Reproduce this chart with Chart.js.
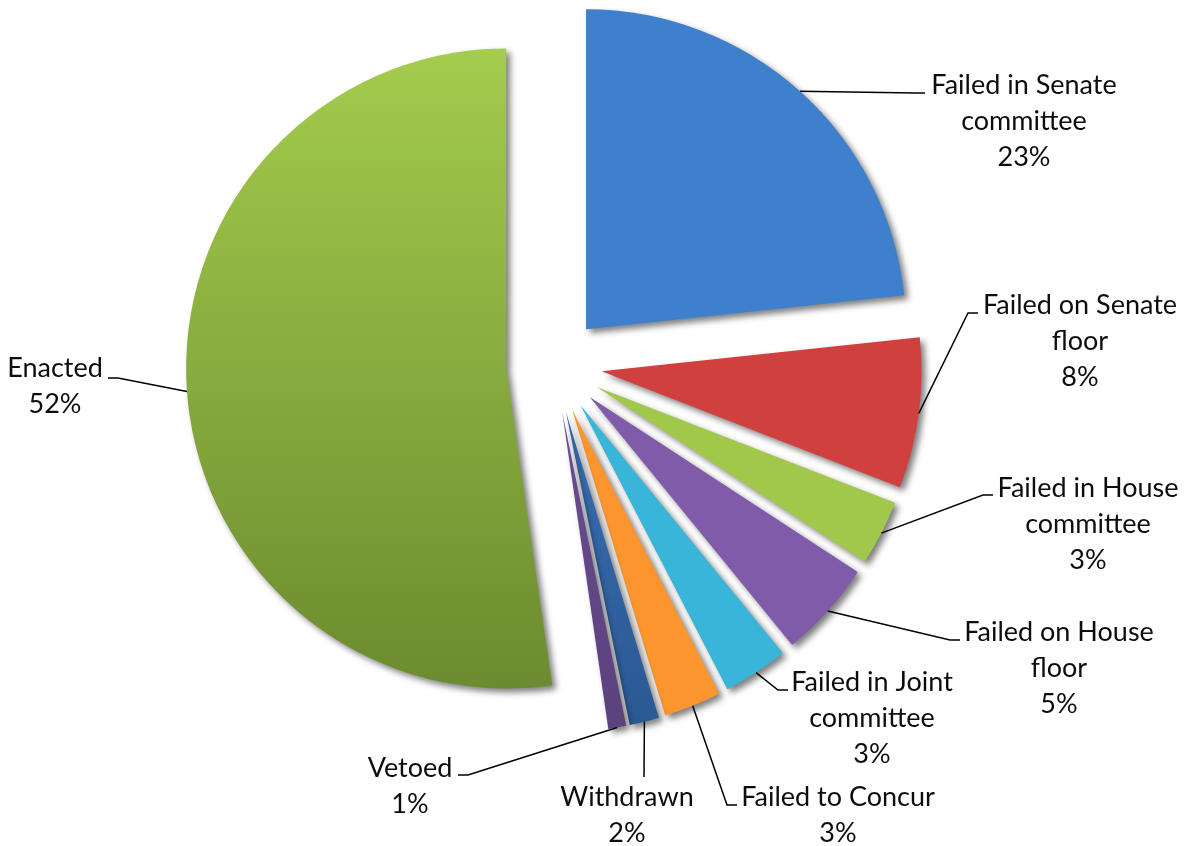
<!DOCTYPE html>
<html>
<head>
<meta charset="utf-8">
<script src="https://cdn.jsdelivr.net/npm/chart.js@4"></script>
<style>
  html, body { margin: 0; padding: 0; background: #ffffff; }
</style>
</head>
<body>
<canvas id="billChart" width="1195" height="846"></canvas>
<script>
// what happened to the bills, clockwise from 12 o'clock
const categories = [
  'Failed in Senate\ncommittee',
  'Failed on Senate\nfloor',
  'Failed in House\ncommittee',
  'Failed on House\nfloor',
  'Failed in Joint\ncommittee',
  'Failed to Concur',
  'Withdrawn',
  'Vetoed',
  'Enacted'
];
const shares = [23.3, 7.6, 3.3, 4.9, 3.3, 2.9, 1.5, 0.9, 52.3];

// styling
const sliceColors = ['#3e80cc', '#d0403e', '#a1c84b', '#7f5ba9', '#38b5d8', '#fc952e', null, null, null];
const sliceGradients = [null, null, null, null, null, null,
  ['#4584d2', '#2a5892'], ['#7859a8', '#5b417d'], ['#a4cc4d', '#6c8b2f']];

// where each label sits: [center x, first line y], and where its leader line ends
const labelAt = [[1024, 85], [1080, 305], [1088, 488], [1059, 632], [872, 682], [838, 797], [627, 797], [410, 768], [55, 368]];
const leaderEnd = [[925, 93], [978, 313], [993, 495], [960, 640], [788, 690], [737, 805], [644, 777], [458, 775], [108, 378]];

const RADIUS = 320;
const EXPLODE = 48;
const LINE_H = 36;

function sliceFill(c) {
  const i = c.dataIndex;
  const g = sliceGradients[i];
  if (!g) return sliceColors[i];
  const area = c.chart.chartArea;
  if (!area) return g[0];
  const cy = (area.top + area.bottom) / 2;
  const grad = c.chart.ctx.createLinearGradient(0, cy - RADIUS, 0, cy + RADIUS);
  grad.addColorStop(0, g[0]);
  grad.addColorStop(1, g[1]);
  return grad;
}

function sliceGeom(arc) {
  const mid = (arc.startAngle + arc.endAngle) / 2;
  const cx = arc.x + Math.cos(mid) * EXPLODE;
  const cy = arc.y + Math.sin(mid) * EXPLODE;
  return {
    dx: cx - arc.x,
    dy: cy - arc.y,
    px: cx + Math.cos(mid) * arc.outerRadius,
    py: cy + Math.sin(mid) * arc.outerRadius
  };
}

// every slice pulled out along its bisector, with a soft drop shadow
const explodedPie = {
  id: 'explodedPie',
  beforeDatasetDraw(chart, args) {
    const ctx = chart.ctx;
    ctx.save();
    ctx.shadowColor = 'rgba(0, 0, 0, 0.5)';
    ctx.shadowBlur = 6;
    ctx.shadowOffsetX = 4;
    ctx.shadowOffsetY = 4;
    args.meta.data.forEach(arc => {
      const g = sliceGeom(arc);
      ctx.save();
      ctx.translate(g.dx, g.dy);
      arc.draw(ctx);
      ctx.restore();
    });
    ctx.restore();
    return false;
  }
};

const sliceLabels = {
  id: 'sliceLabels',
  afterDatasetsDraw(chart) {
    const ctx = chart.ctx;
    const meta = chart.getDatasetMeta(0);
    const total = shares.reduce((a, b) => a + b, 0);
    ctx.save();
    meta.data.forEach((arc, i) => {
      const g = sliceGeom(arc);
      const [ex, ey] = leaderEnd[i];
      const [lx, ly] = labelAt[i];
      // short horizontal stub next to the label, unless the line is vertical
      let bx = ex;
      if (Math.abs(ex - g.px) > 15) bx = ex + (g.px < ex ? -10 : 10);
      ctx.beginPath();
      ctx.moveTo(g.px, g.py);
      ctx.lineTo(bx, ey);
      ctx.lineTo(ex, ey);
      ctx.strokeStyle = '#000000';
      ctx.lineWidth = 1.5;
      ctx.stroke();

      const lines = categories[i].split('\n');
      lines.push(Math.round(shares[i] / total * 100) + '%');
      ctx.fillStyle = '#0d0d0d';
      ctx.font = '27px Lato, "Open Sans", sans-serif';
      ctx.textAlign = 'center';
      ctx.textBaseline = 'middle';
      lines.forEach((t, k) => ctx.fillText(t, lx, ly + k * LINE_H));
    });
    ctx.restore();
  }
};

new Chart(document.getElementById('billChart'), {
  type: 'pie',
  data: {
    labels: categories,
    datasets: [{
      data: shares,
      backgroundColor: sliceFill,
      borderWidth: 0
    }]
  },
  options: {
    responsive: false,
    animation: false,
    radius: RADIUS,
    layout: { padding: { left: 0, right: 87, top: 0, bottom: 116 } },
    plugins: {
      legend: { display: false },
      tooltip: { enabled: false }
    }
  },
  plugins: [explodedPie, sliceLabels]
});
</script>
</body>
</html>
